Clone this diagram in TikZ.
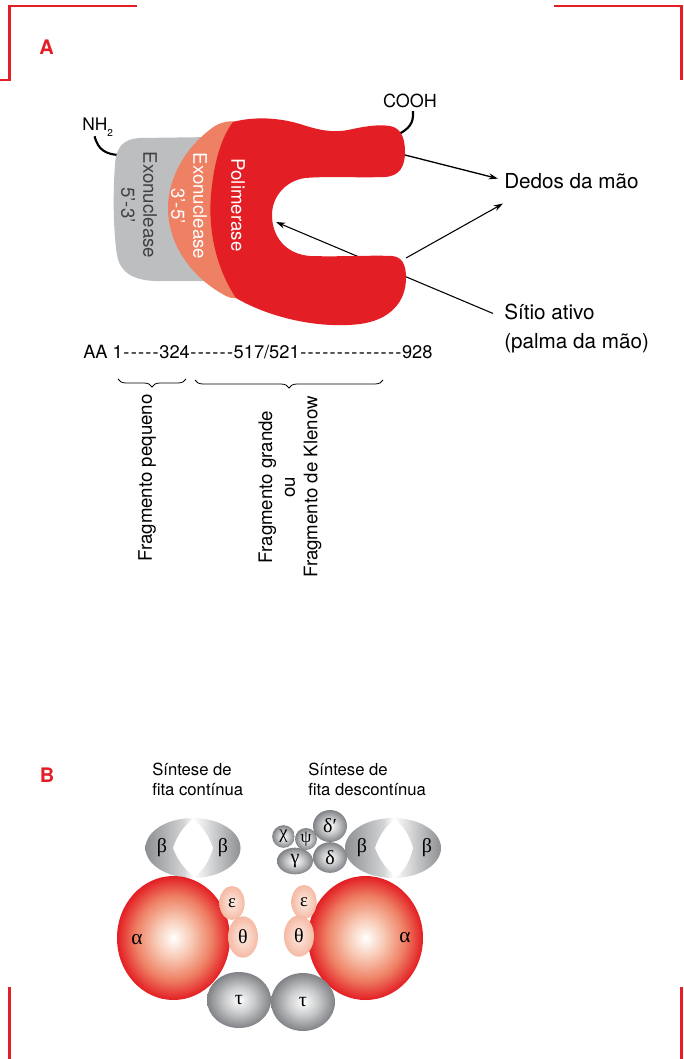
\documentclass[tikz,border=0pt]{standalone}
\usepackage{fontspec}
\setmainfont{TeX Gyre Heros}
\newfontfamily\greekfont{Liberation Serif}
\usetikzlibrary{arrows.meta,positioning,calc,shapes.geometric,decorations.pathreplacing}

\definecolor{cantored}{RGB}{228,30,38}
\definecolor{polred}{RGB}{227,30,36}
\definecolor{exosalmon}{RGB}{238,128,99}
\definecolor{exogray}{RGB}{188,190,192}
\definecolor{txtgray}{RGB}{65,64,66}
\definecolor{ringgray}{RGB}{141,143,146}

\pgfdeclareradialshading{alphaball}{\pgfpointorigin}{color(0bp)=(white); color(8bp)=(rgb,255:red,248;green,201;blue,180); color(17bp)=(rgb,255:red,238;green,127;blue,99); color(25bp)=(polred); color(50bp)=(polred)}
\pgfdeclareradialshading{grayball}{\pgfpointorigin}{color(0bp)=(white); color(12bp)=(rgb,255:red,200;green,201;blue,203); color(25bp)=(rgb,255:red,128;green,130;blue,133); color(50bp)=(rgb,255:red,128;green,130;blue,133)}
\pgfdeclareradialshading{epsball}{\pgfpointorigin}{color(0bp)=(rgb,255:red,253;green,236;blue,228); color(25bp)=(rgb,255:red,245;green,185;blue,163); color(50bp)=(rgb,255:red,245;green,185;blue,163)}
\pgfdeclarehorizontalshading{betaring}{100bp}{color(0bp)=(ringgray); color(25bp)=(ringgray); color(45bp)=(rgb,255:red,210;green,211;blue,213); color(50bp)=(white); color(75bp)=(ringgray); color(100bp)=(ringgray)}

\newcommand{\hy}{\makebox[0.4em]{-}}

\begin{document}
\begin{tikzpicture}[x=0.75pt,y=-0.75pt,
  canto/.style={draw=cantored,line width=1.9pt},
  letra/.style={text=cantored,font=\bfseries\fontsize{15}{18}\selectfont,inner sep=0pt},
  rotulo/.style={font=\fontsize{15.5}{18}\selectfont,inner sep=0pt},
  seta/.style={line width=0.8pt,-{Stealth[length=7pt,width=4.5pt]}},
  haste/.style={line width=1.6pt},
  dominio/.style={rotate=-90,align=center,inner sep=0pt,font=\fontsize{14}{16.5}\selectfont},
  fragmento/.style={rotate=90,align=center,inner sep=0pt,font=\fontsize{14}{17}\selectfont},
  chave/.style={decorate,decoration={brace,mirror,amplitude=6pt},line width=0.6pt},
  sintese/.style={anchor=base west,inner sep=0pt,font=\fontsize{12.5}{15}\selectfont},
  grego/.style={inner sep=0pt,font=\greekfont\fontsize{15}{15}\selectfont},
  cinza/.style={ellipse,inner sep=0pt,shade,shading=grayball,grego},
  rosa/.style={ellipse,inner sep=0pt,shade,shading=epsball,grego},
]
\useasboundingbox (0,0) rectangle (683,1059);

% 四隅の赤い枠線
\draw[canto] (0,80) -- (9.5,80) -- (9.5,6) -- (137,6);
\draw[canto] (554,6) -- (681.5,6) -- (681.5,80);
\draw[canto] (9.5,987) -- (9.5,1059);
\draw[canto] (681.5,987) -- (681.5,1059);

%% A
\node[letra] (labelA) at (46.5,47.5) {A};

\node[rotulo,anchor=base west] (dedos) at (504,189) {Dedos da mão};
\node[rotulo,anchor=base west] (sitio) at (504,319) {Sítio ativo};
\node[rotulo,anchor=base west] (palma) at (504,348) {(palma da mão)};
\node[inner sep=0pt,font=\fontsize{13.5}{16}\selectfont] (cooh) at (410,101) {COOH};
\node[inner sep=0pt,anchor=base west,font=\fontsize{13}{16}\selectfont] (nh) at (82,131) {NH\raisebox{-4.5pt}{\fontsize{7.5}{8}\selectfont 2}};

\coordinate (dedoA) at (405,155); % 上の指の先
\coordinate (dedoB) at (406,258); % 下の指の先
\coordinate (ativo) at (276,222); % 活性部位
\coordinate (cterm) at (399,134);
\coordinate (nterm) at (118,155);
\coordinate (dedosTip) at ($(dedos.west)+(-6,-3)$);
\coordinate (dedosTip2) at ($(dedos.south west)+(-1,14)$);
\coordinate (sitioIn) at ($(sitio.west)+(-11,2)$);

\draw[seta,line width=1pt] (dedoA) -- (dedosTip);
\draw[seta] (dedoB) -- (dedosTip2);
\draw[seta] (sitioIn) -- (ativo); % 赤い部分の下を通る
\draw[haste] ($(cooh.south)+(3,3)$) .. controls (414,124) and (408,129) .. (cterm);
\draw[haste] ($(nh.south)+(-3,-1)$) .. controls (98,150) and (106,154) .. (nterm);

% エキソヌクレアーゼ 5'-3'（灰色）
\fill[exogray] (215,137) -- (140,138)
  .. controls (122,139) and (116,148) .. (115,165)
  .. controls (113,190) and (113,230) .. (117,255)
  .. controls (120,272) and (132,280) .. (155,281) -- (215,281) -- cycle;
% エキソヌクレアーゼ 3'-5'（サーモン色）
\fill[exosalmon] (240,122) .. controls (230,120) and (220,122) .. (212,128)
  .. controls (185,148) and (168,178) .. (168,208)
  .. controls (168,245) and (192,278) .. (226,296)
  .. controls (232,299) and (238,299) .. (240,296) -- cycle;
% ポリメラーゼ（手の形）
\fill[polred] (233,122)
  .. controls (255,116) and (280,118) .. (300,124)
  .. controls (318,130) and (332,133) .. (348,130)
  .. controls (362,127) and (376,124) .. (390,126)
  .. controls (401,128) and (405,138) .. (405,152)
  .. controls (405,166) and (400,176) .. (385,177)
  .. controls (355,178) and (330,176) .. (305,178)
  .. controls (285,181) and (272,197) .. (272,215)
  .. controls (272,236) and (285,254) .. (310,256)
  .. controls (340,257) and (370,255) .. (392,256)
  .. controls (402,257) and (406,264) .. (406,278)
  .. controls (406,302) and (390,320) .. (360,324)
  .. controls (320,329) and (270,318) .. (236,298)
  .. controls (216,268) and (208,230) .. (211,195)
  .. controls (214,162) and (221,138) .. (233,122) -- cycle;

\node[dominio,text=txtgray] (exo53) at (139,205) {Exonuclease\\5'-3'};
\node[dominio,text=white] (exo35) at (189,206) {Exonuclease\\3'-5'};
\node[dominio,text=white] (pol) at (238,205) {Polimerase};

% アミノ酸番号と断片
\node[inner sep=0pt,anchor=base west,font=\fontsize{13.7}{16}\selectfont] (escala) at (83,358)
  {AA 1\hy\hy\hy\hy\hy 324\hy\hy\hy\hy\hy\hy 517/521\hy\hy\hy\hy\hy\hy\hy\hy\hy\hy\hy\hy\hy\hy 928};
\coordinate (chaveA1) at (118,379);
\coordinate (chaveA2) at (186,379);
\coordinate (chaveB1) at (195,380);
\coordinate (chaveB2) at (383,380);
\draw[chave] (chaveA1) -- (chaveA2);
\draw[chave] (chaveB1) -- (chaveB2);
\node[fragmento] (pequeno) at (147,478) {Fragmento pequeno};
\node[fragmento] (grande) at (290,487) {Fragmento grande\\ou\\Fragmento de Klenow};

%% B
\node[letra] (labelB) at (47,775.5) {B};
\node[sintese] (cont1) at (152,775) {Síntese de};
\node[sintese] (cont2) at (152,795) {fita contínua};
\node[sintese] (desc1) at (308,775) {Síntese de};
\node[sintese] (desc2) at (308,795) {fita descontínua};

% βクランプ（2つ）
\shade[shading=betaring] (193,848) ellipse [x radius=47.5,y radius=30];
\fill[white] (193,819) to[bend left=15] (213,848) to[bend left=15] (195,877)
  to[bend left=15] (173,848) to[bend left=15] cycle;
\shade[shading=betaring] (393,848) ellipse [x radius=48,y radius=30];
\fill[white] (395,819) to[bend left=15] (413,848) to[bend left=15] (397,877)
  to[bend left=15] (375,848) to[bend left=15] cycle;
\node[grego] (betaL1) at (162,848) {β};
\node[grego] (betaL2) at (223,848) {β};
\node[grego] (betaR1) at (362,848) {β};
\node[grego] (betaR2) at (427,848) {β};

% γ複合体
\node[cinza,minimum width=27pt,minimum height=20pt] (gama) at (295,861) {γ};
\node[cinza,minimum width=25.5pt,minimum height=23pt] (delta) at (330,857.5) {δ};
\node[cinza,minimum width=17pt,minimum height=17pt,font=\greekfont\fontsize{14}{14}\selectfont] (chi) at (283.5,836.5) {χ};
\node[cinza,minimum width=16.5pt,minimum height=16.5pt,font=\greekfont\fontsize{13}{13}\selectfont] (psi) at (306,839) {ψ};
\node[cinza,minimum width=25.5pt,minimum height=24pt] (deltap) at (330,826) {δ′};

% αサブユニット
\shade[shading=alphaball] (173.5,938) ellipse [x radius=56.5,y radius=62];
\shade[shading=alphaball] (365.5,938) ellipse [x radius=57.5,y radius=62];
\node[grego,font=\greekfont\fontsize{16}{16}\selectfont] (alphaL) at (137,940) {α};
\node[grego,font=\greekfont\fontsize{16}{16}\selectfont] (alphaR) at (405,938) {α};

% ε と θ
\node[rosa,minimum width=19pt,minimum height=25.5pt,font=\greekfont\fontsize{14}{14}\selectfont] (epsL) at (232,903) {ε};
\node[rosa,minimum width=22.5pt,minimum height=31pt] (tetaL) at (243,937) {θ};
\node[rosa,minimum width=19pt,minimum height=25.5pt,font=\greekfont\fontsize{14}{14}\selectfont] (epsR) at (304,902) {ε};
\node[rosa,minimum width=22.5pt,minimum height=31pt] (tetaR) at (299,936) {θ};

% τ
\node[cinza,minimum width=48pt,minimum height=42pt] (tauL) at (239,1000) {τ};
\node[cinza,minimum width=48pt,minimum height=43.5pt] (tauR) at (303,1002) {τ};
\end{tikzpicture}
\end{document}
